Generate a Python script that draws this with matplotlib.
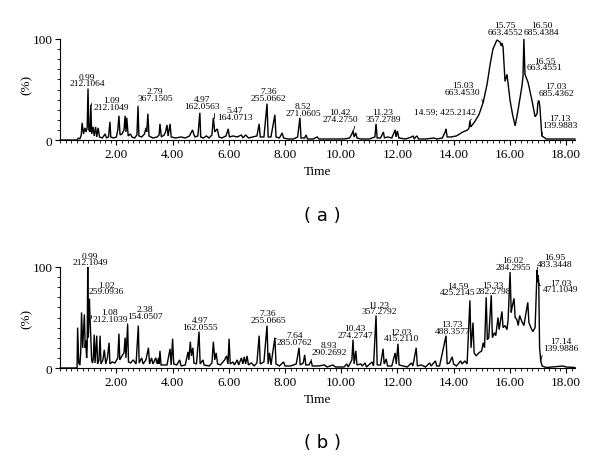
import matplotlib
matplotlib.use("Agg")
import matplotlib.pyplot as plt
from matplotlib.ticker import MultipleLocator, FixedLocator, FixedFormatter

# ---------------- data ----------------
# Panel (a): chromatogram vertices (time, relative intensity %)
time_a = [0, 0.6, 0.65, 0.7, 0.75, 0.78, 0.83, 0.88, 0.92, 0.96, 0.99, 1.02, 1.06, 1.09, 1.12,
          1.17, 1.21, 1.26, 1.3, 1.35, 1.4, 1.5, 1.6, 1.65, 1.72, 1.77, 1.8, 1.9, 2.0, 2.05, 2.09,
          2.13, 2.2, 2.27, 2.31, 2.34, 2.37, 2.42, 2.5, 2.55, 2.65, 2.73, 2.77, 2.8, 2.9, 3.0,
          3.05, 3.08, 3.12, 3.16, 3.3, 3.45, 3.52, 3.55, 3.6, 3.7, 3.75, 3.8, 3.84, 3.91, 3.95,
          4.1, 4.3, 4.45, 4.6, 4.71, 4.75, 4.8, 4.9, 4.97, 5.0, 5.1, 5.2, 5.3, 5.4, 5.45, 5.5,
          5.59, 5.65, 5.75, 5.9, 5.98, 6.02, 6.15, 6.3, 6.45, 6.5, 6.6, 6.7, 6.85, 7.0, 7.08,
          7.12, 7.25, 7.36, 7.4, 7.5, 7.64, 7.68, 7.8, 7.9, 7.95, 8.1, 8.3, 8.45, 8.53, 8.57,
          8.7, 8.75, 8.8, 9.0, 9.15, 9.2, 9.5, 9.8, 10.1, 10.3, 10.38, 10.42, 10.46, 10.52, 10.56,
          10.7, 11.0, 11.1, 11.2, 11.24, 11.28, 11.4, 11.5, 11.54, 11.65, 11.8, 11.92, 11.95,
          12.0, 12.05, 12.3, 12.5, 12.56, 12.6, 12.65, 12.7, 12.75, 13.0, 13.3, 13.4, 13.6, 13.7,
          13.73, 13.77, 13.9, 14.1, 14.33, 14.5, 14.55, 14.58, 14.61, 14.75, 14.9, 15.05, 15.19,
          15.3, 15.4, 15.54, 15.65, 15.7, 15.72, 15.76, 15.83, 15.9, 16.01, 16.1, 16.19, 16.29,
          16.43, 16.47, 16.5, 16.54, 16.65, 16.79, 16.9, 16.97, 17.0, 17.04, 17.07, 17.14, 17.3,
          18.32]
inten_a = [0, 0, 2, 1, 5, 17, 6, 12, 8, 12, 51, 10, 8, 35, 6,
           13, 4, 13, 3, 12, 3, 2, 6, 2, 3, 18, 3, 2, 3, 10, 24,
           5, 6, 10, 24, 8, 22, 4, 6, 3, 2, 5, 33, 4, 3, 6,
           12, 8, 26, 4, 2, 3, 5, 16, 3, 5, 8, 15, 4, 16, 3,
           2, 3, 2, 4, 10, 6, 3, 4, 27, 3, 2, 4, 2, 5, 22, 8,
           11, 3, 2, 4, 11, 3, 4, 3, 5, 2, 5, 2, 3, 4, 16,
           3, 3, 36, 3, 3, 25, 3, 2, 7, 2, 1, 1, 3, 22, 2,
           2, 5, 1, 1, 3, 1, 1, 1, 1, 2, 6, 9, 3, 7, 2,
           1, 1, 2, 3, 16, 2, 2, 8, 2, 3, 2, 10, 3,
           9, 2, 1, 3, 4, 1, 3, 4, 1, 1, 2, 1, 2, 8,
           11, 3, 3, 4, 8, 10, 12, 19, 13, 18, 25, 37, 55,
           75, 90, 99, 97, 93, 96, 92, 58, 65, 39, 25, 14, 29,
           53, 63, 100, 65, 57, 39, 23, 26, 37, 39, 33, 4, 1,
           1]

# Panel (b): chromatogram vertices (time, relative intensity %)
time_b = [0, 0.6, 0.62, 0.66, 0.7, 0.73, 0.76, 0.8, 0.86, 0.89, 0.91, 0.94, 0.96, 0.98, 1.0,
          1.04, 1.06, 1.09, 1.12, 1.15, 1.18, 1.21, 1.24, 1.3, 1.33, 1.38, 1.42, 1.45, 1.52, 1.57,
          1.62, 1.68, 1.74, 1.77, 1.85, 1.95, 2.05, 2.09, 2.12, 2.2, 2.27, 2.31, 2.34, 2.4, 2.43,
          2.5, 2.6, 2.7, 2.78, 2.81, 2.9, 2.95, 3.05, 3.14, 3.18, 3.25, 3.3, 3.4, 3.45, 3.5, 3.52,
          3.55, 3.59, 3.8, 3.91, 3.95, 4.0, 4.04, 4.15, 4.25, 4.3, 4.45, 4.55, 4.58, 4.63, 4.67,
          4.72, 4.76, 4.85, 4.94, 4.98, 5.08, 5.12, 5.3, 5.4, 5.45, 5.5, 5.55, 5.6, 5.7, 5.85,
          5.92, 5.97, 6.01, 6.05, 6.15, 6.2, 6.3, 6.35, 6.45, 6.5, 6.55, 6.6, 6.65, 6.7, 6.8, 6.9,
          7.0, 7.08, 7.12, 7.25, 7.36, 7.4, 7.45, 7.5, 7.64, 7.68, 7.8, 7.95, 8.0, 8.2, 8.4, 8.5,
          8.54, 8.65, 8.7, 8.74, 8.85, 8.93, 8.97, 9.2, 9.4, 9.5, 9.7, 9.8, 10.1, 10.2, 10.25,
          10.38, 10.42, 10.46, 10.52, 10.56, 10.7, 10.75, 10.85, 10.9, 11.1, 11.15, 11.24, 11.28,
          11.4, 11.49, 11.53, 11.6, 11.65, 11.8, 11.92, 11.96, 12.02, 12.06, 12.2, 12.35, 12.5,
          12.55, 12.67, 12.71, 12.85, 13.0, 13.15, 13.2, 13.35, 13.4, 13.5, 13.73, 13.77, 13.85,
          13.95, 14.0, 14.1, 14.25, 14.3, 14.4, 14.48, 14.58, 14.62, 14.69, 14.73, 14.8, 14.9,
          14.95, 15.0, 15.05, 15.1, 15.16, 15.2, 15.25, 15.34, 15.38, 15.45, 15.5, 15.58, 15.62,
          15.72, 15.76, 15.83, 15.9, 15.94, 16.01, 16.05, 16.08, 16.15, 16.19, 16.25, 16.3,
          16.35, 16.43, 16.5, 16.55, 16.64, 16.68, 16.75, 16.82, 16.9, 16.97, 16.99, 17.01,
          17.03, 17.06, 17.1, 17.15, 17.3, 17.5, 17.7, 17.9, 18.0, 18.32]
inten_b = [0, 0, 40, 5, 3, 15, 55, 20, 53, 20, 27, 10, 20, 100, 30,
           68, 50, 30, 8, 5, 10, 33, 5, 32, 4, 8, 32, 4, 8, 18,
           4, 10, 25, 4, 6, 5, 10, 34, 8, 12, 15, 30, 10, 43, 6,
           5, 8, 4, 42, 5, 10, 4, 8, 20, 4, 10, 4, 10, 4, 10, 4,
           17, 3, 3, 19, 3, 29, 4, 3, 8, 2, 3, 16, 8, 26, 12,
           20, 5, 4, 36, 4, 8, 3, 2, 5, 26, 8, 15, 4, 3, 8,
           12, 4, 29, 4, 6, 3, 8, 3, 10, 4, 11, 4, 12, 3, 5, 2,
           5, 32, 4, 6, 42, 4, 15, 3, 30, 4, 2, 6, 2, 2, 4, 20,
           3, 5, 13, 3, 3, 7, 2, 2, 3, 1, 3, 1, 1, 4, 1,
           8, 28, 4, 17, 3, 4, 2, 5, 1, 6, 2, 52, 3,
           3, 19, 4, 9, 2, 2, 15, 4, 24, 3, 2, 1, 5,
           2, 20, 2, 3, 1, 5, 2, 7, 2, 2, 32, 4, 5,
           11, 4, 2, 7, 4, 7, 4, 67, 20, 45, 15, 12, 15,
           16, 17, 25, 20, 70, 28, 30, 72, 30, 35, 32, 50, 38,
           56, 40, 42, 38, 48, 95, 55, 60, 69, 50, 48, 42,
           52, 46, 42, 50, 65, 45, 40, 36, 40, 97, 85, 92,
           84, 20, 7, 2, 0.5, 1, 1.5, 2, 1, 0.5]

# Peak labels: (retention time, intensity at label anchor, text)
peaks_a_time = [0.99, 1.09, 2.77, 4.97, 5.47, 7.36, 8.53, 10.42, 11.24, 14.58, 15.05,
                15.72, 16.5, 16.54, 17.0, 17.14]
peaks_a_int = [51, 35, 33, 27, 22, 36, 22, 9, 16, 19, 37, 97, 100, 65, 39, 4]
peaks_a_text = ["0.99\n212.1064", "1.09\n212.1049", "2.79\n367.1505", "4.97\n162.0563",
                "5.47\n164.0713", "7.36\n255.0662", "8.52\n271.0605", "10.42\n274.2750",
                "11.23\n357.2789", "14.59; 425.2142", "15.03\n663.4530", "15.75\n663.4552",
                "16.50\n685.4384", "16.55\n663.4551", "17.03\n685.4362", "17.13\n139.9883"]

peaks_b_time = [0.98, 1.04, 1.09, 2.4, 4.94, 7.36, 7.64, 8.93, 10.42, 11.24, 12.02, 13.73,
                14.58, 15.34, 16.01, 16.97, 17.03, 17.1]
peaks_b_int = [100, 68, 50, 43, 36, 42, 30, 7, 28, 52, 24, 32, 67, 72, 95, 97, 84, 7]
peaks_b_text = ["0.99\n212.1049", "1.02\n259.0936", "1.08\n212.1039", "2.38\n154.0507",
                "4.97\n162.0555", "7.36\n255.0665", "7.64\n285.0762", "8.93\n290.2692",
                "10.43\n274.2747", "11.23\n357.2792", "12.03\n415.2110", "13.73\n488.3577",
                "14.59\n425.2145", "15.33\n282.2798", "16.02\n284.2955", "16.95\n483.3448",
                "17.03\n471.1049", "17.14\n139.9886"]

x_ticks = [2, 4, 6, 8, 10, 12, 14, 16, 18]
x_tick_labels = ["2.00", "4.00", "6.00", "8.00", "10.00", "12.00", "14.00", "16.00", "18.00"]
y_ticks = [0, 100]
y_tick_labels = ["0", "100"]

# ---------------- layout (text positions, leader styles) ----------------
# (text x, text bottom y, leader style)
layout_a = [(0.95, 52, "none"), (1.83, 29, "bracket"), (3.37, 37.5, "diag"),
            (5.06, 30, "none"), (6.22, 19, "bracket"), (7.41, 37.5, "none"),
            (8.64, 23, "none"), (9.96, 17, "curve"), (11.48, 17, "none"),
            (13.69, 24, "diagr"), (14.33, 43.5, "diagr"), (15.83, 103, "none"),
            (17.14, 103, "none"), (17.25, 68, "diag"), (17.65, 42.5, "diag"),
            (17.79, 11, "diag")]
layout_b = [(1.06, 100.5, "none"), (1.63, 72, "diag"), (1.77, 44.5, "bracket"),
            (3.02, 47.5, "diag"), (4.97, 37, "none"), (7.4, 44, "none"),
            (8.34, 21.8, "bracket"), (9.57, 12, "diag"), (10.49, 29, "none"),
            (11.35, 52, "none"), (12.13, 25.5, "none"), (13.95, 32.5, "none"),
            (14.16, 71, "none"), (15.4, 72, "none"), (16.12, 96, "none"),
            (17.61, 99, "diag"), (17.82, 74, "bracket"), (17.8, 16, "diag")]

SERIF = ["Liberation Serif", "DejaVu Serif"]
W, H = 600, 460
fig = plt.figure(figsize=(6.0, 4.6), dpi=100)

def px_axes(top_px, bottom_px):
    left = 60.2 / W
    width = (575 - 60.2) / W
    return [left, 1 - bottom_px / H, width, (bottom_px - top_px) / H]

def draw_panel(ax, t, y, ptime, pint, ptext, layout, ylab_y):
    ax.plot(t, y, color="black", lw=1.0, clip_on=False, solid_joinstyle="miter")
    ax.set_xlim(0, 18.32)
    ax.set_ylim(0, 100)
    for s in ["top", "right"]:
        ax.spines[s].set_visible(False)
    ax.spines["left"].set_linewidth(0.8)
    ax.spines["bottom"].set_linewidth(0.8)
    ax.xaxis.set_major_locator(FixedLocator(x_ticks))
    ax.xaxis.set_major_formatter(FixedFormatter(x_tick_labels))
    ax.xaxis.set_minor_locator(MultipleLocator(0.2))
    ax.yaxis.set_major_locator(FixedLocator(y_ticks))
    ax.yaxis.set_major_formatter(FixedFormatter(y_tick_labels))
    ax.yaxis.set_minor_locator(MultipleLocator(10))
    ax.tick_params(axis="both", which="major", direction="out", length=3.5, width=0.8,
                   pad=2, labelsize=9.5)
    ax.tick_params(axis="both", which="minor", direction="out", length=2, width=0.6)
    for lab in ax.get_xticklabels() + ax.get_yticklabels():
        lab.set_fontfamily(SERIF)
    ax.text(0.5, -0.245, "Time", transform=ax.transAxes, ha="center", va="top",
            fontsize=9.5, family=SERIF)
    ax.text(-0.0645, ylab_y, "(%)", transform=ax.transAxes, ha="center", va="center",
            rotation=90, fontsize=9.5, family=SERIF)
    for pt, pi, txt, (tx, ty, style) in zip(ptime, pint, ptext, layout):
        kw = dict(fontsize=6.8, family=SERIF, ha="center", va="bottom",
                  linespacing=0.78, annotation_clip=False)
        if style == "none":
            ax.annotate(txt, xy=(tx, ty), **kw)
        elif style == "bracket":
            ax.annotate(txt, xy=(pt, pi), xytext=(tx, ty),
                        arrowprops=dict(arrowstyle="-", lw=0.6, color="black",
                                        connectionstyle="angle,angleA=0,angleB=90,rad=0",
                                        relpos=(0, 0.55), shrinkA=0.5, shrinkB=0), **kw)
        elif style == "diag":
            ax.annotate(txt, xy=(pt, pi), xytext=(tx, ty),
                        arrowprops=dict(arrowstyle="-", lw=0.6, color="black",
                                        relpos=(0.02, 0.1), shrinkA=0.5, shrinkB=0), **kw)
        elif style == "diagr":
            ax.annotate(txt, xy=(pt, pi), xytext=(tx, ty),
                        arrowprops=dict(arrowstyle="-", lw=0.6, color="black",
                                        relpos=(0.98, 0.1), shrinkA=0.5, shrinkB=0), **kw)
        elif style == "curve":
            ax.annotate(txt, xy=(pt, pi), xytext=(tx, ty),
                        arrowprops=dict(arrowstyle="-", lw=0.6, color="black",
                                        connectionstyle="arc3,rad=-0.4",
                                        relpos=(0.85, 0.1), shrinkA=0.5, shrinkB=0), **kw)

ax_a = fig.add_axes(px_axes(40, 141))
draw_panel(ax_a, time_a, inten_a, peaks_a_time, peaks_a_int, peaks_a_text, layout_a, 0.554)
ax_b = fig.add_axes(px_axes(268, 369))
draw_panel(ax_b, time_b, inten_b, peaks_b_time, peaks_b_int, peaks_b_text, layout_b, 0.495)

fig.text(322 / W, 1 - 216 / H, "( a )", ha="center", va="center", fontsize=13,
         family=["DejaVu Sans"])
fig.text(322 / W, 1 - 443 / H, "( b )", ha="center", va="center", fontsize=13,
         family=["DejaVu Sans"])

fig.savefig("out.png", dpi=100)
